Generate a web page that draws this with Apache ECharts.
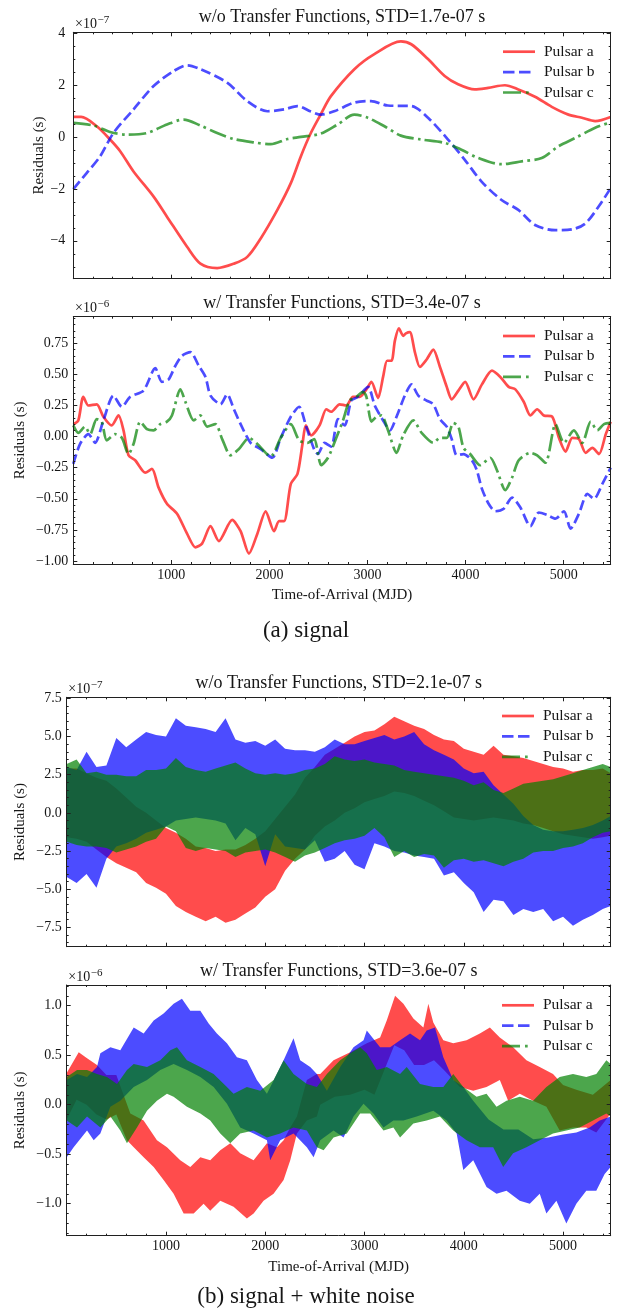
<!DOCTYPE html>
<html>
<head>
<meta charset="utf-8">
<title>Pulsar timing residuals</title>
<script src="https://cdn.jsdelivr.net/npm/echarts@6/dist/echarts.min.js"></script>
<style>
  html, body { margin: 0; padding: 0; background: #ffffff; }
  #chart { width: 618px; height: 1311px; }
</style>
</head>
<body>
<div id="chart"></div>
<script>
// ---------------------------------------------------------------------------
// Data: residuals in units of the panel multiplier (1e-7 s or 1e-6 s)
// ---------------------------------------------------------------------------
const PULSARS = ['Pulsar a', 'Pulsar b', 'Pulsar c'];
const PANEL_TITLES = [
  'w/o Transfer Functions, STD=1.7e-07 s',
  'w/ Transfer Functions, STD=3.4e-07 s',
  'w/o Transfer Functions, STD=2.1e-07 s',
  'w/ Transfer Functions, STD=3.6e-07 s'
];
const PANEL_EXPONENTS = ['\u22127', '\u22126', '\u22127', '\u22126'];
const CAPTIONS = ['(a) signal', '(b) signal + white noise'];
const X_NAME = 'Time-of-Arrival (MJD)';
const Y_NAME = 'Residuals (s)';

const MJD_MIN = 0;
const MJD_MAX = 5480;
const X_MAJOR = [1000, 2000, 3000, 4000, 5000];
const Y_MAJOR = [
  [-4, -2, 0, 2, 4],
  [-1, -0.75, -0.5, -0.25, 0, 0.25, 0.5, 0.75],
  [-7.5, -5, -2.5, 0, 2.5, 5, 7.5],
  [-1, -0.5, 0, 0.5, 1]
];
const Y_DECIMALS = [0, 2, 1, 1];
const Y_RANGE = [[-5.46, 4.03], [-1.024, 0.964], [-8.77, 7.57], [-1.323, 1.209]];
const Y_MINOR_STEP = [0.5, 0.05, 0.5, 0.1];
const X_MINOR_STEP = 200;

// (a) signal, without transfer functions  [MJD, 1e-7 s]
const sigWoA = [[0,0.77],[80,0.77],[239,0.41],[375,-0.10],[478,-0.55],[614,-1.33],[819,-2.30],[955,-3.07],[1160,-4.23],[1296,-4.88],[1467,-5.05],[1638,-4.88],[1774,-4.62],[1911,-3.91],[2081,-2.81],[2218,-1.78],[2320,-0.75],[2422,0.15],[2525,0.88],[2627,1.57],[2866,2.61],[3070,3.19],[3340,3.68],[3446,3.57],[3617,3.00],[3787,2.35],[3924,2.03],[4094,1.83],[4231,1.89],[4401,1.99],[4538,1.83],[4708,1.55],[4879,1.16],[5049,0.86],[5186,0.74],[5322,0.61],[5480,0.77]];
const sigWoB = [[0,-2.01],[136,-1.39],[273,-0.75],[409,0.15],[614,1.06],[819,1.96],[1024,2.54],[1160,2.76],[1296,2.61],[1569,2.09],[1774,1.38],[1979,0.99],[2149,1.06],[2286,1.19],[2422,0.98],[2525,0.86],[2661,0.99],[2866,1.32],[3036,1.38],[3207,1.21],[3446,1.19],[3617,0.74],[3821,-0.10],[3992,-0.88],[4163,-1.72],[4367,-2.43],[4538,-2.81],[4708,-3.39],[4913,-3.59],[5084,-3.56],[5220,-3.34],[5357,-2.68],[5480,-1.97]];
const sigWoC = [[0,0.54],[205,0.44],[375,0.19],[546,0.09],[751,0.15],[955,0.48],[1126,0.67],[1296,0.44],[1467,0.15],[1638,-0.08],[1842,-0.21],[2013,-0.28],[2184,-0.08],[2320,0.00],[2525,0.13],[2695,0.48],[2866,0.86],[3002,0.74],[3173,0.41],[3340,0.05],[3548,-0.10],[3787,-0.23],[3958,-0.49],[4129,-0.81],[4367,-1.05],[4572,-0.94],[4777,-0.81],[4947,-0.36],[5118,-0.04],[5322,0.35],[5480,0.57]];

// (a) signal, with transfer functions  [MJD, 1e-6 s]
const sigWA = [[0,0.10],[51,0.13],[102,0.32],[154,0.25],[239,0.26],[307,0.16],[392,0.09],[461,0.17],[512,0.05],[563,-0.15],[631,-0.19],[734,-0.29],[802,-0.26],[870,-0.41],[955,-0.54],[1058,-0.62],[1160,-0.78],[1245,-0.89],[1313,-0.86],[1399,-0.72],[1484,-0.84],[1620,-0.67],[1706,-0.76],[1791,-0.94],[1877,-0.78],[1962,-0.60],[2047,-0.76],[2098,-0.68],[2149,-0.68],[2218,-0.38],[2286,-0.30],[2337,-0.06],[2371,0.09],[2426,0.01],[2511,0.09],[2580,0.22],[2630,0.20],[2716,0.26],[2784,0.25],[2852,0.32],[2920,0.32],[2989,0.38],[3040,0.44],[3108,0.31],[3159,0.48],[3200,0.61],[3245,0.61],[3279,0.77],[3320,0.87],[3364,0.81],[3392,0.83],[3432,0.84],[3483,0.68],[3534,0.56],[3603,0.62],[3671,0.70],[3739,0.56],[3808,0.40],[3859,0.30],[3927,0.37],[3996,0.44],[4081,0.30],[4167,0.42],[4269,0.53],[4354,0.48],[4440,0.40],[4508,0.38],[4593,0.28],[4661,0.17],[4730,0.22],[4798,0.17],[4883,0.16],[4952,-0.01],[5020,-0.12],[5088,-0.01],[5156,-0.02],[5225,-0.13],[5293,-0.09],[5361,-0.14],[5430,0.02],[5480,0.12]];
const sigWB = [[0,-0.22],[68,-0.06],[154,0.02],[222,-0.05],[307,0.13],[409,0.33],[495,0.24],[580,0.32],[716,0.37],[836,0.55],[904,0.44],[972,0.46],[1041,0.57],[1109,0.65],[1194,0.68],[1279,0.57],[1348,0.48],[1399,0.33],[1501,0.26],[1569,0.34],[1638,0.22],[1706,0.10],[1808,-0.05],[1911,-0.10],[2030,-0.17],[2115,-0.01],[2218,0.16],[2303,0.24],[2375,0.08],[2460,-0.11],[2494,-0.14],[2562,-0.05],[2630,-0.08],[2699,0.14],[2767,0.09],[2835,0.29],[2903,0.32],[3006,0.40],[3074,0.25],[3159,0.13],[3228,0.05],[3296,0.16],[3381,0.33],[3449,0.42],[3518,0.33],[3603,0.29],[3671,0.26],[3739,0.14],[3808,0.08],[3859,-0.02],[3910,-0.15],[3979,-0.14],[4064,-0.19],[4115,-0.27],[4167,-0.42],[4235,-0.54],[4303,-0.60],[4389,-0.58],[4474,-0.49],[4559,-0.57],[4661,-0.72],[4747,-0.61],[4832,-0.63],[4917,-0.66],[5003,-0.60],[5071,-0.74],[5156,-0.62],[5242,-0.46],[5310,-0.50],[5395,-0.38],[5480,-0.25]];
const sigWC = [[0,0.09],[51,0.03],[119,0.08],[171,0.02],[239,0.14],[290,0.12],[341,-0.03],[426,0.02],[495,-0.01],[563,-0.14],[614,-0.06],[682,0.12],[751,0.06],[819,0.05],[887,0.10],[955,0.12],[1006,0.17],[1092,0.38],[1143,0.28],[1228,0.13],[1296,0.17],[1365,0.08],[1450,0.10],[1518,-0.02],[1603,-0.15],[1689,-0.10],[1791,-0.01],[1877,-0.06],[2013,-0.16],[2115,-0.01],[2218,0.10],[2303,-0.03],[2388,-0.05],[2456,-0.02],[2528,-0.23],[2597,-0.17],[2682,-0.01],[2750,0.13],[2818,0.29],[2887,0.32],[2955,0.36],[2989,0.32],[3040,0.12],[3091,0.16],[3142,0.17],[3210,0.05],[3296,-0.13],[3364,0.01],[3467,0.13],[3552,0.03],[3671,-0.05],[3739,-0.01],[3808,-0.01],[3876,0.11],[3927,0.08],[3979,-0.09],[4047,-0.14],[4149,-0.23],[4252,-0.17],[4320,-0.27],[4405,-0.43],[4474,-0.33],[4542,-0.19],[4661,-0.13],[4730,-0.15],[4815,-0.21],[4917,0.10],[5003,-0.05],[5105,0.05],[5190,-0.05],[5276,0.12],[5344,0.05],[5412,0.10],[5480,0.11]];

// (b) signal + white noise, without transfer functions:
// upper / lower extent of each noisy trace on a 100-MJD grid  [1e-7 s]
const noiseMjd = [0,100,200,300,400,500,600,700,800,900,1000,1100,1200,1300,1400,1500,1600,1700,1800,1900,2000,2100,2200,2300,2400,2500,2600,2700,2800,2900,3000,3100,3200,3300,3400,3500,3600,3700,3800,3900,4000,4100,4200,4300,4400,4500,4600,4700,4800,4900,5000,5100,5200,5300,5400,5480];
const noiseWoAHi = [2.9,2.9,2.6,2.3,2.1,1.6,1.0,0.4,0.0,-0.5, -1.0,-1.3,-1.7,-2.2,-2.3,-2.5,-2.4,-2.4,-2.1,-1.7, -1.2,-0.4,0.4,1.2,2.3,3.0,3.8,4.2,4.6,5.0, 5.3,5.4,5.8,6.3,6.0,5.7,5.5,5.1,4.8,4.7, 4.2,4.0,3.8,4.4,3.8,3.7,3.6,3.4,3.2,3.0, 2.9,2.7,2.8,2.8,2.9,2.6];
const noiseWoALo = [-1.6,-1.7,-1.9,-2.4,-2.9,-3.3,-3.6,-3.9,-4.6,-4.9, -5.3,-6.1,-6.5,-6.8,-7.1,-6.8,-7.2,-7.0,-6.6,-6.2, -5.5,-5.0,-3.8,-3.0,-2.4,-1.5,-0.9,-0.5,0.0,0.3, 0.7,0.9,1.1,1.4,1.3,1.1,0.8,0.5,0.1,-0.3, -0.4,-0.5,-0.4,-0.3,-0.4,-0.5,-0.7,-0.8,-1.0,-1.2, -1.4,-1.5,-1.6,-1.7,-1.6,-1.5];
const noiseWoBHi = [3.0,2.8,4.0,3.0,3.1,4.9,4.3,4.8,5.3,5.1, 5.0,6.2,5.7,5.6,5.5,5.3,6.2,4.8,4.6,4.7, 4.4,4.8,4.2,4.1,4.1,4.0,4.3,4.8,4.5,4.5, 4.7,4.9,5.1,4.8,5.0,5.3,4.5,4.1,3.8,3.5, 2.9,2.6,2.7,1.8,1.2,0.6,-0.2,-0.8,-1.1,-1.2, -1.2,-1.1,-1.0,-0.8,-0.5,-0.2];
const noiseWoBLo = [-4.2,-4.6,-4.0,-4.9,-3.0,-2.2,-2.0,-1.7,-1.3,-1.1, -0.9,-0.5,-0.4,-0.3,-0.4,-0.5,-0.7,-1.8,-1.0,-1.4, -3.5,-1.4,-2.2,-2.3,-2.4,-1.8,-3.2,-3.0,-2.5,-3.4, -3.7,-2.0,-2.2,-2.5,-2.6,-2.8,-2.9,-3.0,-4.1,-3.9, -4.6,-5.2,-6.5,-5.7,-5.8,-6.7,-6.3,-6.5,-6.3,-7.1, -6.8,-7.4,-7.0,-6.7,-6.3,-6.1];
const noiseWoCHi = [3.2,3.5,2.6,2.7,2.5,2.5,2.4,2.4,2.8,2.8, 2.9,3.6,3.0,2.8,2.7,2.9,3.1,3.3,2.9,2.6, 2.5,2.6,2.5,2.6,2.8,2.9,3.2,3.7,3.5,3.4, 3.5,3.3,3.2,3.1,2.8,2.7,2.6,2.5,2.4,2.3, 2.1,1.8,2.0,1.5,1.3,1.6,1.9,2.0,2.1,2.2, 2.4,2.6,2.8,3.0,3.2,3.0];
const noiseWoCLo = [-1.9,-2.1,-2.2,-2.2,-2.3,-2.6,-2.4,-2.2,-1.9,-1.7, -0.9,-1.2,-2.3,-2.5,-2.3,-2.4,-2.5,-2.9,-2.6,-2.5, -2.4,-2.6,-2.9,-3.2,-2.8,-2.6,-2.3,-2.0,-1.8,-1.7, -1.5,-1.0,-1.6,-2.9,-2.5,-2.9,-2.7,-2.8,-3.6,-3.1, -3.0,-3.2,-3.1,-3.3,-3.5,-3.2,-3.0,-2.6,-2.5,-2.5, -2.3,-2.2,-2.0,-1.6,-1.3,-1.2];

// (b) signal + white noise, with transfer functions:
// upper / lower extent of each noisy trace  [MJD, 1e-6 s]
const noiseWAHi = [[0,0.32],[121,0.53],[205,0.47],[305,0.40],[400,0.30],[500,0.30],[641,-0.09],[775,-0.16],[909,-0.36],[1010,-0.43],[1144,-0.56],[1245,-0.63],[1346,-0.53],[1446,-0.56],[1547,-0.46],[1648,-0.39],[1748,-0.49],[1883,-0.56],[2017,-0.39],[2117,-0.43],[2185,-0.36],[2252,-0.23],[2319,-0.12],[2419,0.25],[2520,0.31],[2554,0.31],[2688,0.45],[2856,0.53],[3023,0.62],[3157,0.68],[3224,0.85],[3308,1.10],[3392,1.02],[3492,0.87],[3593,0.78],[3643,1.02],[3693,0.83],[3794,0.65],[3894,0.62],[4028,0.65],[4162,0.72],[4263,0.78],[4363,0.68],[4497,0.58],[4631,0.45],[4765,0.38],[4899,0.31],[5000,0.20],[5134,0.15],[5300,0.10],[5480,0.25]];
const noiseWALo = [[0,-0.15],[100,0.05],[200,0.00],[300,-0.10],[400,-0.15],[500,-0.10],[607,-0.36],[675,-0.43],[775,-0.53],[876,-0.63],[976,-0.76],[1077,-0.90],[1178,-1.10],[1279,-1.10],[1379,-1.00],[1446,-1.07],[1547,-0.97],[1681,-1.03],[1815,-1.15],[1883,-1.10],[1983,-0.97],[2084,-0.90],[2185,-0.76],[2252,-0.56],[2319,-0.29],[2419,-0.16],[2520,-0.12],[2554,0.00],[2700,0.08],[2856,0.10],[3000,0.15],[3100,0.10],[3200,0.35],[3300,0.60],[3400,0.55],[3500,0.40],[3600,0.40],[3700,0.45],[3800,0.35],[3961,0.18],[4095,0.14],[4229,0.18],[4363,0.25],[4447,0.04],[4564,0.11],[4698,0.04],[4832,-0.02],[4966,-0.26],[5100,-0.23],[5234,-0.23],[5335,-0.28],[5480,-0.09]];
const noiseWBHi = [[0,0.25],[104,0.31],[205,0.28],[305,0.38],[339,0.52],[440,0.58],[540,0.55],[675,0.78],[775,0.72],[876,0.85],[976,0.92],[1077,1.02],[1161,1.07],[1245,0.95],[1346,0.95],[1430,0.82],[1513,0.72],[1614,0.62],[1715,0.48],[1815,0.45],[1916,0.25],[2017,0.11],[2117,0.31],[2185,0.45],[2285,0.67],[2352,0.45],[2453,0.38],[2520,0.31],[2621,0.14],[2755,0.38],[2889,0.58],[2990,0.65],[3023,0.75],[3157,0.58],[3258,0.58],[3358,0.65],[3459,0.72],[3559,0.65],[3626,0.75],[3710,0.78],[3794,0.48],[3894,0.25],[3995,0.18],[4095,0.04],[4250,-0.15],[4400,-0.25],[4550,-0.25],[4700,-0.35],[4850,-0.33],[5000,-0.30],[5134,-0.28],[5268,-0.23],[5369,-0.16],[5480,-0.12]];
const noiseWBLo = [[0,-0.53],[70,-0.43],[205,-0.26],[272,-0.36],[339,-0.29],[440,-0.02],[540,0.04],[675,0.18],[809,0.25],[943,0.35],[1077,0.41],[1211,0.35],[1346,0.28],[1480,0.18],[1614,0.01],[1748,-0.23],[1883,-0.29],[2017,-0.36],[2050,-0.56],[2151,-0.36],[2285,-0.29],[2419,-0.43],[2487,-0.53],[2554,-0.36],[2688,-0.26],[2789,-0.33],[2889,-0.12],[2990,0.01],[3090,-0.09],[3191,-0.23],[3291,-0.16],[3392,-0.16],[3526,-0.12],[3693,-0.06],[3827,-0.16],[3928,-0.29],[3995,-0.66],[4095,-0.56],[4229,-0.83],[4330,-0.90],[4430,-0.87],[4564,-0.97],[4665,-1.00],[4765,-0.90],[4832,-1.10],[4933,-0.97],[5033,-1.20],[5134,-1.00],[5234,-0.87],[5335,-0.87],[5419,-0.70],[5480,-0.63]];
const noiseWCHi = [[0,0.28],[104,0.35],[205,0.35],[305,0.31],[406,0.28],[507,0.21],[607,0.35],[675,0.41],[809,0.38],[943,0.45],[1044,0.55],[1111,0.58],[1211,0.45],[1346,0.38],[1480,0.31],[1614,0.18],[1681,0.11],[1815,0.18],[1950,0.14],[2084,0.25],[2185,0.45],[2285,0.31],[2419,0.21],[2520,0.18],[2621,0.31],[2755,0.45],[2856,0.52],[2956,0.58],[3023,0.52],[3124,0.35],[3224,0.38],[3358,0.31],[3425,0.38],[3559,0.21],[3693,0.18],[3794,0.18],[3894,0.31],[3995,0.18],[4129,0.08],[4229,0.11],[4330,-0.02],[4430,0.04],[4564,0.08],[4698,0.04],[4832,0.18],[4966,0.28],[5100,0.31],[5234,0.28],[5335,0.31],[5436,0.45],[5480,0.41]];
const noiseWCLo = [[0,-0.16],[104,-0.23],[205,-0.12],[339,-0.23],[440,-0.12],[540,-0.26],[607,-0.39],[708,-0.23],[809,-0.06],[909,0.04],[1010,0.11],[1077,0.08],[1211,-0.02],[1346,-0.09],[1446,-0.16],[1547,-0.29],[1648,-0.39],[1748,-0.29],[1883,-0.26],[2017,-0.33],[2151,-0.29],[2285,-0.23],[2419,-0.26],[2520,-0.43],[2588,-0.46],[2688,-0.33],[2822,-0.29],[2956,-0.09],[3057,-0.09],[3191,-0.26],[3291,-0.23],[3358,-0.33],[3492,-0.19],[3626,-0.16],[3760,-0.12],[3894,-0.26],[4028,-0.36],[4162,-0.43],[4296,-0.43],[4397,-0.63],[4497,-0.49],[4631,-0.43],[4765,-0.36],[4899,-0.29],[5033,-0.26],[5167,-0.23],[5302,-0.16],[5436,-0.09],[5480,-0.12]];

// ---------------------------------------------------------------------------
// Styling and layout
// ---------------------------------------------------------------------------
const FONT = '"Liberation Serif", "Times New Roman", serif';
const INK = '#161616';
const AXIS_INK = '#202020';
const COLORS = ['rgba(255,0,0,0.7)', 'rgba(0,0,255,0.7)', 'rgba(0,128,0,0.7)'];
const LINE_WIDTH = 2.7;
const DASHES = ['solid', [10, 4.3], [17.3, 4.3, 2.7, 4.3]];
const LEGEND_ICONS = [
  'path://M0,0H32V2.7H0Z',
  'path://M0,0H11.5V2.7H0Z M16,0H27.5V2.7H16Z M32,0H32V2.7H32Z',
  'path://M0,0H18V2.7H0Z M23,0H25.7V2.7H23Z M32,0H32V2.7H32Z'
];

const GRIDS = [
  { left: 73.3, top: 32.3,  width: 537.4, height: 246.4 },
  { left: 73.3, top: 316.7, width: 537.4, height: 247.3 },
  { left: 66.7, top: 697.3, width: 544.0, height: 249.4 },
  { left: 66.7, top: 985.0, width: 544.0, height: 250.7 }
];
const SHOW_X_LABELS = [false, true, false, true];
const Y_LABEL_MARGIN = [8, 5, 5, 5];
const Y_NAME_GAP = [27, 46, 39.5, 39.5];
const X_NAME_GAP = 23.5;
const LEGEND_POS = [
  { left: 503, top: 43.7 },
  { left: 503, top: 328.0 },
  { left: 502, top: 708.0 },
  { left: 502, top: 997.3 }
];
const TITLE_Y = [17, 303.3, 683, 971.7];
const EXP_POS = [
  { x: 75.0, y: 24.0,  sx: 97.5, sy: 20.0 },
  { x: 75.0, y: 308.5, sx: 97.5, sy: 304.5 },
  { x: 68.3, y: 689.5, sx: 90.8, sy: 685.5 },
  { x: 68.3, y: 977.5, sx: 90.8, sy: 973.5 }
];
const CAPTION_POS = [{ x: 306, y: 631 }, { x: 306, y: 1297 }];

// ---------------------------------------------------------------------------
// Helpers
// ---------------------------------------------------------------------------
function minorTicks(lo, hi, step) {
  const out = [];
  for (let k = Math.ceil(lo / step - 1e-9); k * step <= hi + 1e-9; k++) {
    out.push(+(k * step).toFixed(6));
  }
  return out;
}
function fmt(v, dec) {
  return v.toFixed(dec).replace('-', '\u2212');
}
const labelStyle = { fontFamily: FONT, fontSize: 14, color: INK };
const frameLine = { show: true, onZero: false, lineStyle: { color: AXIS_INK, width: 1 } };
const noLine = { show: false, onZero: false };
const tickLine = { color: AXIS_INK, width: 1 };

const xAxes = [];
const yAxes = [];
GRIDS.forEach((g, i) => {
  const xMinor = minorTicks(MJD_MIN, MJD_MAX, X_MINOR_STEP);
  const yMinor = minorTicks(Y_RANGE[i][0], Y_RANGE[i][1], Y_MINOR_STEP[i]);
  const xBase = { type: 'value', gridIndex: i, min: MJD_MIN, max: MJD_MAX, splitLine: { show: false }, z: 6, silent: true };
  const yBase = { type: 'value', gridIndex: i, min: Y_RANGE[i][0], max: Y_RANGE[i][1], splitLine: { show: false }, z: 6, silent: true };

  // bottom: major ticks + labels, then minor ticks
  xAxes.push(Object.assign({}, xBase, {
    position: 'bottom', axisLine: frameLine,
    axisTick: { show: true, inside: true, length: 4, customValues: X_MAJOR, lineStyle: tickLine },
    axisLabel: { show: SHOW_X_LABELS[i], customValues: X_MAJOR, margin: 4, formatter: v => String(v), ...labelStyle },
    name: SHOW_X_LABELS[i] ? X_NAME : '', nameLocation: 'middle', nameGap: X_NAME_GAP, nameMoveOverlap: false,
    nameTextStyle: { fontFamily: FONT, fontSize: 15, color: INK }
  }));
  xAxes.push(Object.assign({}, xBase, {
    position: 'bottom', axisLine: noLine,
    axisTick: { show: true, inside: true, length: 2, customValues: xMinor, lineStyle: tickLine },
    axisLabel: { show: false }
  }));
  // top mirror
  xAxes.push(Object.assign({}, xBase, {
    position: 'top', axisLine: frameLine,
    axisTick: { show: true, inside: true, length: 4, customValues: X_MAJOR, lineStyle: tickLine },
    axisLabel: { show: false }
  }));
  xAxes.push(Object.assign({}, xBase, {
    position: 'top', axisLine: noLine,
    axisTick: { show: true, inside: true, length: 2, customValues: xMinor, lineStyle: tickLine },
    axisLabel: { show: false }
  }));

  // left: major ticks + labels + name, then minor ticks
  yAxes.push(Object.assign({}, yBase, {
    position: 'left', axisLine: frameLine,
    axisTick: { show: true, inside: true, length: 4, customValues: Y_MAJOR[i], lineStyle: tickLine },
    axisLabel: { show: true, customValues: Y_MAJOR[i], margin: Y_LABEL_MARGIN[i], formatter: v => fmt(v, Y_DECIMALS[i]), ...labelStyle },
    name: Y_NAME, nameLocation: 'middle', nameRotate: 90, nameGap: Y_NAME_GAP[i], nameMoveOverlap: false,
    nameTextStyle: { fontFamily: FONT, fontSize: 15, color: INK }
  }));
  yAxes.push(Object.assign({}, yBase, {
    position: 'left', axisLine: noLine,
    axisTick: { show: true, inside: true, length: 2, customValues: yMinor, lineStyle: tickLine },
    axisLabel: { show: false }
  }));
  // right mirror
  yAxes.push(Object.assign({}, yBase, {
    position: 'right', axisLine: frameLine,
    axisTick: { show: true, inside: true, length: 4, customValues: Y_MAJOR[i], lineStyle: tickLine },
    axisLabel: { show: false }
  }));
  yAxes.push(Object.assign({}, yBase, {
    position: 'right', axisLine: noLine,
    axisTick: { show: true, inside: true, length: 2, customValues: yMinor, lineStyle: tickLine },
    axisLabel: { show: false }
  }));
});

// smooth traces (panels 1 and 2)
function traceSeries(k, data, panel, smooth) {
  return {
    type: 'line', name: PULSARS[k], data,
    xAxisIndex: 4 * panel, yAxisIndex: 4 * panel,
    symbol: 'none', smooth, silent: true, animation: false, z: 2,
    lineStyle: { color: COLORS[k], width: LINE_WIDTH, type: DASHES[k], cap: 'butt', join: 'round' },
    itemStyle: { color: COLORS[k] }
  };
}
// noisy traces (panels 3 and 4): filled region between upper and lower extent
function bandSeries(k, hi, lo, panel) {
  return {
    type: 'custom', name: PULSARS[k],
    xAxisIndex: 4 * panel, yAxisIndex: 4 * panel,
    data: [[hi[0][0], hi[0][1]]], clip: true, silent: true, animation: false, z: 2,
    itemStyle: { color: COLORS[k] },
    renderItem(params, api) {
      const pts = hi.map(p => api.coord(p)).concat(lo.slice().reverse().map(p => api.coord(p)));
      return { type: 'polygon', shape: { points: pts }, style: { fill: COLORS[k] } };
    }
  };
}
const onGrid = vals => noiseMjd.map((x, j) => [x, vals[j]]);

const series = [
  traceSeries(0, sigWoA, 0, 0.3),
  traceSeries(1, sigWoB, 0, 0.3),
  traceSeries(2, sigWoC, 0, 0.3),
  traceSeries(0, sigWA, 1, 0.25),
  traceSeries(1, sigWB, 1, 0.25),
  traceSeries(2, sigWC, 1, 0.25),
  bandSeries(0, onGrid(noiseWoAHi), onGrid(noiseWoALo), 2),
  bandSeries(1, onGrid(noiseWoBHi), onGrid(noiseWoBLo), 2),
  bandSeries(2, onGrid(noiseWoCHi), onGrid(noiseWoCLo), 2),
  bandSeries(0, noiseWAHi, noiseWALo, 3),
  bandSeries(1, noiseWBHi, noiseWBLo, 3),
  bandSeries(2, noiseWCHi, noiseWCLo, 3)
];

const legends = LEGEND_POS.map(pos => ({
  orient: 'vertical', left: pos.left, top: pos.top, padding: 0,
  itemWidth: 32, itemHeight: 14, itemGap: 4.4, selectedMode: false,
  textStyle: { fontFamily: FONT, fontSize: 15.5, color: INK, padding: [0, 0, 0, 4] },
  data: PULSARS.map((n, k) => ({ name: n, icon: LEGEND_ICONS[k], itemStyle: { color: COLORS[k], borderWidth: 0 } }))
}));

const graphics = [];
GRIDS.forEach((g, i) => {
  graphics.push({
    type: 'text', x: g.left + g.width / 2, y: TITLE_Y[i], silent: true,
    style: { text: PANEL_TITLES[i], fontFamily: FONT, fontSize: 18, fill: INK, align: 'center', verticalAlign: 'middle' }
  });
  graphics.push({
    type: 'text', x: EXP_POS[i].x, y: EXP_POS[i].y, silent: true,
    style: { text: '\u00d710', fontFamily: FONT, fontSize: 14, fill: INK, align: 'left', verticalAlign: 'middle' }
  });
  graphics.push({
    type: 'text', x: EXP_POS[i].sx, y: EXP_POS[i].sy, silent: true,
    style: { text: PANEL_EXPONENTS[i], fontFamily: FONT, fontSize: 11, fill: INK, align: 'left', verticalAlign: 'middle' }
  });
});
CAPTIONS.forEach((c, i) => {
  graphics.push({
    type: 'text', x: CAPTION_POS[i].x, y: CAPTION_POS[i].y, silent: true,
    style: { text: c, fontFamily: FONT, fontSize: 23, fill: INK, align: 'center', verticalAlign: 'middle' }
  });
});

const chart = echarts.init(document.getElementById('chart'), null, { renderer: 'canvas' });
chart.setOption({
  animation: false,
  backgroundColor: '#ffffff',
  textStyle: { fontFamily: FONT },
  grid: GRIDS.map(g => Object.assign({ containLabel: false }, g)),
  xAxis: xAxes,
  yAxis: yAxes,
  legend: legends,
  series,
  graphic: graphics
});
</script>
</body>
</html>
